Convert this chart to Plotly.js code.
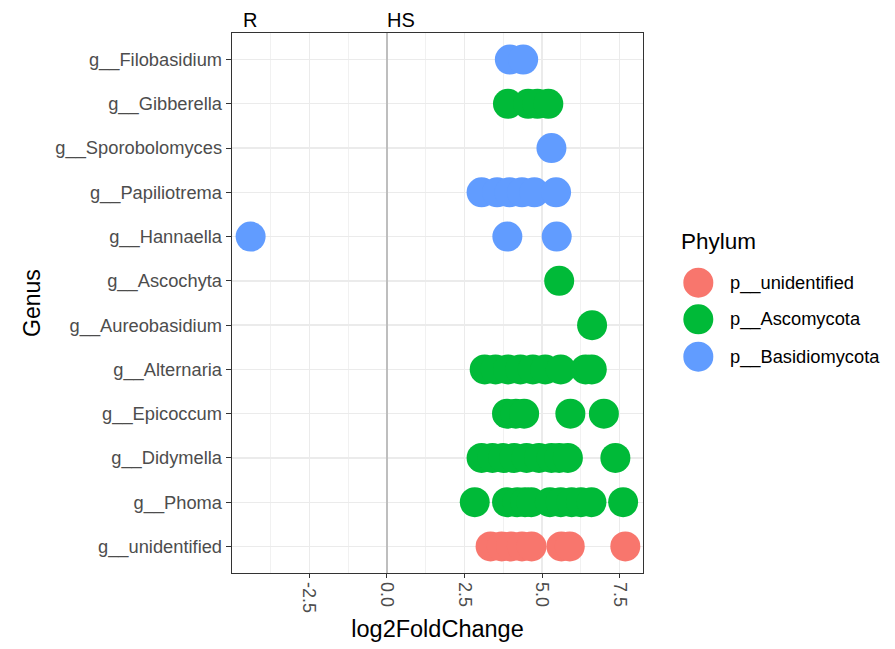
<!DOCTYPE html>
<html>
<head>
<meta charset="utf-8">
<script src="https://cdn.plot.ly/plotly-3.0.1.min.js"></script>
<style>html,body{margin:0;padding:0;background:#fff;}#chart{width:895px;height:649px;}</style>
</head>
<body>
<div id="chart"></div>
<script>
// Genus order, bottom to top
const genera = ["g__unidentified","g__Phoma","g__Didymella","g__Epicoccum","g__Alternaria",
  "g__Aureobasidium","g__Ascochyta","g__Hannaella","g__Papiliotrema","g__Sporobolomyces",
  "g__Gibberella","g__Filobasidium"];

const phyla = ["p__unidentified","p__Ascomycota","p__Basidiomycota"];
const phylumColors = ["#F8766D","#00BA38","#619CFF"];

// p__unidentified
const unidentGenus = ["g__unidentified","g__unidentified","g__unidentified","g__unidentified","g__unidentified",
  "g__unidentified","g__unidentified","g__unidentified"];
const unidentLFC = [3.34,3.7,4.0,4.35,4.66,5.62,5.89,7.68];

// p__Ascomycota
const ascoGenus = [
  "g__Gibberella","g__Gibberella","g__Gibberella","g__Gibberella",
  "g__Ascochyta",
  "g__Aureobasidium",
  "g__Alternaria","g__Alternaria","g__Alternaria","g__Alternaria","g__Alternaria","g__Alternaria","g__Alternaria","g__Alternaria","g__Alternaria",
  "g__Epicoccum","g__Epicoccum","g__Epicoccum","g__Epicoccum","g__Epicoccum",
  "g__Didymella","g__Didymella","g__Didymella","g__Didymella","g__Didymella","g__Didymella","g__Didymella","g__Didymella","g__Didymella","g__Didymella",
  "g__Phoma","g__Phoma","g__Phoma","g__Phoma","g__Phoma","g__Phoma","g__Phoma","g__Phoma","g__Phoma","g__Phoma","g__Phoma"];
const ascoLFC = [
  3.9,4.55,4.85,5.2,
  5.55,
  6.61,
  3.15,3.5,3.9,4.3,4.7,5.1,5.6,6.4,6.6,
  3.87,4.15,4.42,5.91,6.99,
  3.05,3.4,3.75,4.1,4.5,4.9,5.3,5.55,5.83,7.36,
  2.83,3.87,4.2,4.45,4.65,5.25,5.6,5.95,6.25,6.59,7.61];

// p__Basidiomycota
const basidGenus = ["g__Filobasidium","g__Filobasidium","g__Sporobolomyces",
  "g__Papiliotrema","g__Papiliotrema","g__Papiliotrema","g__Papiliotrema","g__Papiliotrema","g__Papiliotrema",
  "g__Hannaella","g__Hannaella","g__Hannaella"];
const basidLFC = [3.96,4.39,5.30,
  3.05,3.55,3.95,4.35,4.75,5.45,
  -4.39,3.88,5.47];

// Tick labels
const xTickVals = [-2.5,0,2.5,5,7.5];
const xTickText = ["-2.5","0.0","2.5","5.0","7.5"];

const FONT = "Liberation Sans, Arial, Helvetica, sans-serif";

const seriesX = [unidentLFC, ascoLFC, basidLFC];
const seriesY = [unidentGenus, ascoGenus, basidGenus];
const traces = phyla.map((p,i) => ({
  type: "scatter", mode: "markers", name: p,
  x: seriesX[i], y: seriesY[i],
  marker: {color: phylumColors[i], size: 30, line: {width: 0}},
  showlegend: false, hoverinfo: "x+y"
}));

// Legend built with shapes/annotations so key circles match the point size
const legY = [0.5376, 0.4698, 0.4006];
const shapes = phyla.map((p,i) => ({
  type: "circle", xref: "paper", yref: "paper",
  xsizemode: "pixel", ysizemode: "pixel",
  xanchor: 1.1346, yanchor: legY[i],
  x0: -15, x1: 15, y0: -15, y1: 15,
  fillcolor: phylumColors[i], line: {width: 0}
}));
const annotations = phyla.map((p,i) => ({
  xref: "paper", yref: "paper", x: 1.2068, y: legY[i],
  xanchor: "left", yanchor: "middle", showarrow: false,
  text: p, font: {family: FONT, size: 18.3, color: "#000"}
}));
annotations.push({xref:"paper", yref:"paper", x: 1.0885, y: 0.613, xanchor:"left", yanchor:"middle",
  showarrow:false, text:"Phylum", font:{family:FONT, size:22.5, color:"#000"}});
annotations.push({xref:"x", yref:"paper", x: -4.4, y: 1.0, xanchor:"center", yanchor:"bottom", yshift: 0,
  showarrow:false, text:"R", font:{family:FONT, size:20, color:"#000"}});
annotations.push({xref:"x", yref:"paper", x: 0.45, y: 1.0, xanchor:"center", yanchor:"bottom", yshift: 0,
  showarrow:false, text:"HS", font:{family:FONT, size:20, color:"#000"}});

const layout = {
  width: 895, height: 649,
  margin: {l: 232, r: 252, t: 33, b: 76},
  paper_bgcolor: "#fff", plot_bgcolor: "#fff",
  showlegend: false,
  font: {family: FONT},
  xaxis: {
    range: [-4.99, 8.25],
    tickmode: "array", tickvals: xTickVals, ticktext: xTickText,
    tickangle: 90,
    tickfont: {family: FONT, size: 18, color: "#4D4D4D"},
    ticks: "outside", ticklen: 4, tickcolor: "#333333", tickwidth: 1.1,
    showgrid: true, gridcolor: "#EBEBEB", gridwidth: 1.3,
    minor: {tickmode: "linear", tick0: -3.75, dtick: 2.5, showgrid: true, gridcolor: "#EBEBEB", gridwidth: 0.7, ticks: ""},
    zeroline: true, zerolinecolor: "#BEBEBE", zerolinewidth: 1.6,
    showline: true, mirror: true, linecolor: "#333333", linewidth: 1.3,
    title: {text: "log2FoldChange", font: {family: FONT, size: 23.5, color: "#000"}, standoff: 8}
  },
  yaxis: {
    type: "category", categoryorder: "array", categoryarray: genera,
    range: [-0.6, 11.6],
    tickfont: {family: FONT, size: 18.3, color: "#4D4D4D"},
    ticks: "outside", ticklen: 5, tickcolor: "#333333", tickwidth: 1.1,
    showgrid: true, gridcolor: "#EBEBEB", gridwidth: 1.3,
    zeroline: false,
    showline: true, mirror: true, linecolor: "#333333", linewidth: 1.3,
    title: {text: "Genus", font: {family: FONT, size: 23, color: "#000"}, standoff: 8}
  },
  shapes: shapes,
  annotations: annotations
};

Plotly.newPlot("chart", traces, layout, {displayModeBar: false, staticPlot: true});
</script>
</body>
</html>
